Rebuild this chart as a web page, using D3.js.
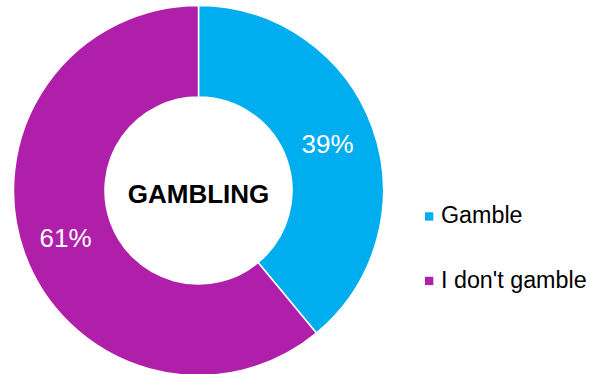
<!DOCTYPE html>
<html>
<head>
<meta charset="utf-8">
<script src="https://cdn.jsdelivr.net/npm/d3@7"></script>
<style>
  html, body { margin: 0; padding: 0; background: #fff; }
  svg { display: block; font-family: "Liberation Sans", Arial, sans-serif; }
</style>
</head>
<body>
<svg id="chart" width="590" height="374"></svg>
<script>
// Share of respondents who gamble
const categories = ["Gamble", "I don't gamble"];
const values = [39, 61];
const colors = ["#00AEEF", "#B01FAA"];
const centerTitle = "GAMBLING";

const svg = d3.select("#chart");
const cx = 198.5, cy = 190.5;
const outerR = 185, innerR = 93.5;

const color = d3.scaleOrdinal().domain(categories).range(colors);

const pie = d3.pie().sort(null).value(d => d.value);
const arcs = pie(categories.map((c, i) => ({ name: c, value: values[i] })));

const arc = d3.arc().innerRadius(innerR).outerRadius(outerR);

const g = svg.append("g").attr("transform", `translate(${cx},${cy})`);

g.selectAll("path.slice")
  .data(arcs)
  .join("path")
  .attr("class", "slice")
  .attr("d", arc)
  .attr("fill", d => color(d.data.name))
  .attr("stroke", "#fff")
  .attr("stroke-width", 1.5);

// Percentage labels at each slice centroid
g.selectAll("text.pct")
  .data(arcs)
  .join("text")
  .attr("class", "pct")
  .attr("transform", d => {
    const [x, y] = arc.centroid(d);
    return `translate(${x - 2},${y})`;
  })
  .attr("text-anchor", "middle")
  .attr("dy", "0.36em")
  .attr("fill", "#fff")
  .attr("font-size", 26)
  .text(d => d.data.value + "%");

// Title in the hole
g.append("text")
  .attr("text-anchor", "middle")
  .attr("y", 12.8)
  .attr("font-size", 26)
  .attr("font-weight", "bold")
  .attr("fill", "#000")
  .text(centerTitle);

// Legend
const legend = svg.append("g").attr("transform", "translate(425,216.5)");
const items = legend.selectAll("g.item")
  .data(categories)
  .join("g")
  .attr("class", "item")
  .attr("transform", (d, i) => `translate(0,${i * 64.5})`);

items.append("rect")
  .attr("x", 0).attr("y", -4.2)
  .attr("width", 8.3).attr("height", 8.3)
  .attr("fill", d => color(d));

items.append("text")
  .attr("x", 16)
  .attr("y", 6.6)
  .attr("font-size", 23.3)
  .attr("fill", "#000")
  .text(d => d);
</script>
</body>
</html>
